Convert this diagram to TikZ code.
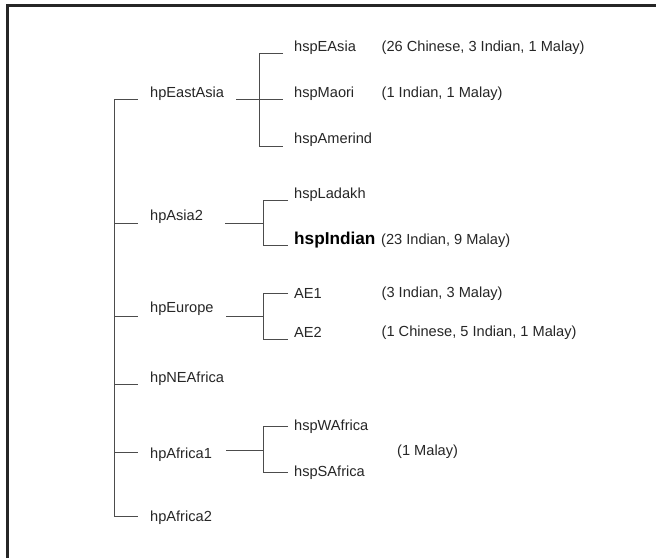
\documentclass[tikz,border=0pt]{standalone}
\usepackage{fontspec}
\setmainfont{Liberation Sans}
\begin{document}
\begin{tikzpicture}[x=1pt,y=-1pt,
  lbl/.style={anchor=west,inner sep=0pt,yshift=-1.5pt,font=\fontsize{14.6}{16}\selectfont,text=black!85},
  bold/.style={lbl,font=\fontsize{17.2}{19}\selectfont\bfseries,text=black},
  wire/.style={draw=black!70,line width=1pt},
  frame/.style={draw=black!85,line width=2.6pt}]
\useasboundingbox (0,0) rectangle (656,558);
\fill[white] (0,0) rectangle (656,558);
\draw[frame] (7.5,558) -- (7.5,5.5) -- (656,5.5);

% level-1 labels
\node[lbl] (eastasia) at (150,92) {hpEastAsia};
\node[lbl] (asia2) at (150,215) {hpAsia2};
\node[lbl] (europe) at (150,307) {hpEurope};
\node[lbl] (neafrica) at (150,377) {hpNEAfrica};
\node[lbl] (africa1) at (150,453) {hpAfrica1};
\node[lbl] (africa2) at (150,516) {hpAfrica2};

% level-2 labels
\node[lbl] (easia) at (294,46) {hspEAsia};
\node[lbl] (maori) at (294,92) {hspMaori};
\node[lbl] (amerind) at (294,138) {hspAmerind};
\node[lbl] (ladakh) at (294,193) {hspLadakh};
\node[bold] (indian) at (294,239) {hspIndian};
\node[lbl] (ae1) at (294,292) {AE1};
\node[lbl] (ae2) at (294,331) {AE2};
\node[lbl] (wafrica) at (294,425) {hspWAfrica};
\node[lbl] (safrica) at (294,471) {hspSAfrica};

% counts
\node[lbl] (c1) at (381.5,46) {(26 Chinese, 3 Indian, 1 Malay)};
\node[lbl] (c2) at (381.5,92) {(1 Indian, 1 Malay)};
\node[lbl] (c3) at (381,239) {(23 Indian, 9 Malay)};
\node[lbl] (c4) at (381.5,292) {(3 Indian, 3 Malay)};
\node[lbl] (c5) at (381.5,331) {(1 Chinese, 5 Indian, 1 Malay)};
\node[lbl] (c6) at (397,450) {(1 Malay)};

% root tree
\coordinate (r1) at (114,99);
\coordinate (r2) at (114,223);
\coordinate (r3) at (114,316);
\coordinate (r4) at (114,384);
\coordinate (r5) at (114,452);
\coordinate (r6) at (114,516);
\draw[wire] (r1) -- (r6);
\draw[wire] (r1) -- (138,99);
\draw[wire] (r2) -- (138,223);
\draw[wire] (r3) -- (138,316);
\draw[wire] (r4) -- (138,384);
\draw[wire] (r5) -- (138,452);
\draw[wire] (r6) -- (138,516);

% hpEastAsia subtree
\coordinate (ea0) at (236,99);
\coordinate (eaj) at (259,99);
\coordinate (eat) at (259,53);
\coordinate (eab) at (259,146);
\draw[wire] (ea0) -- (283,99);
\draw[wire] (283,53) -- (eat) -- (eab) -- (283,146);

% hpAsia2 subtree
\coordinate (a20) at (225,223);
\coordinate (a2j) at (263,223);
\coordinate (a2t) at (263,200);
\coordinate (a2b) at (263,245);
\draw[wire] (a20) -- (a2j);
\draw[wire] (288,200) -- (a2t) -- (a2b) -- (288,245);

% hpEurope subtree
\coordinate (eu0) at (226,316);
\coordinate (euj) at (263,316);
\coordinate (eut) at (263,293);
\coordinate (eub) at (263,339);
\draw[wire] (eu0) -- (euj);
\draw[wire] (288,293) -- (eut) -- (eub) -- (288,339);

% hpAfrica1 subtree
\coordinate (af0) at (226,450);
\coordinate (afj) at (263,450);
\coordinate (aft) at (263,426);
\coordinate (afb) at (263,472);
\draw[wire] (af0) -- (afj);
\draw[wire] (288,426) -- (aft) -- (afb) -- (288,472);
\end{tikzpicture}
\end{document}
